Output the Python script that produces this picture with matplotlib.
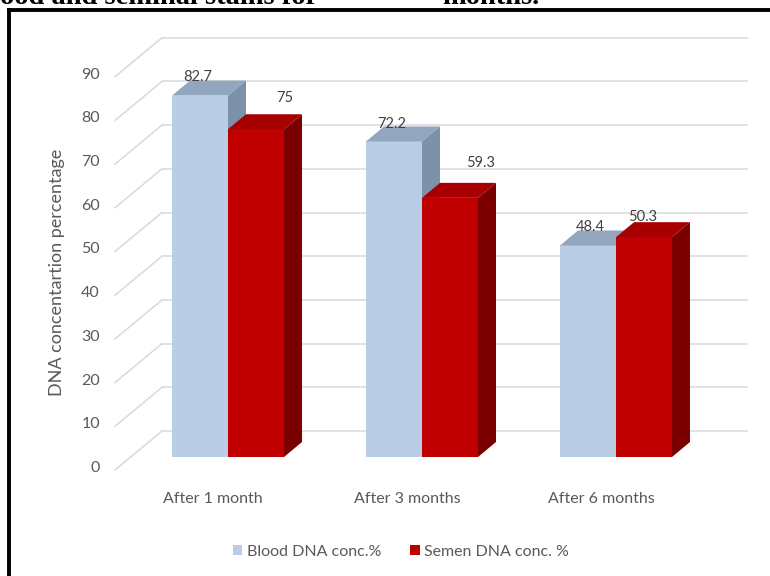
import matplotlib.pyplot as plt
from matplotlib.patches import Polygon, Patch
from matplotlib.lines import Line2D

# chart data
categories = ["After 1 month", "After 3 months", "After 6 months"]
blood_dna = [82.7, 72.2, 48.4]
semen_dna = [75, 59.3, 50.3]
series_names = ["Blood DNA conc.%", "Semen DNA conc. %"]
y_ticks = [0, 10, 20, 30, 40, 50, 60, 70, 80, 90]

# label nudges in pixels (dx, dy above the front top edge)
blood_label_nudge = [(-2, 19), (-2, 17), (2, 18)]
semen_label_nudge = [(29, 31), (31, 35), (-1, 20)]

W, H = 770, 576
X0, STEP = 228, 194      # pixel x of first group centre, pixels per group
Y0, PPU = 457, 4.37      # pixel y (from top) of value 0, pixels per unit

BLUE = ("#B9CDE5", "#93A6BF", "#7D91AB")   # front, top, side
RED = ("#C00000", "#A80000", "#7A0000")
GRID = "#D9D9D9"
TEXT = "#595959"
FONT = "Lato"

plt.rcParams['font.family'] = [FONT, 'DejaVu Sans']

fig = plt.figure(figsize=(W / 100, H / 100), dpi=100)
ax = fig.add_axes([0, 0, 1, 1])
ax.set_xlim(-X0 / STEP, (W - X0) / STEP)
ax.set_ylim(-(H - Y0) / PPU, Y0 / PPU)
ax.axis('off')


def px_x(px):
    return (px - X0) / STEP


def px_v(px):
    return px / PPU


bar_w = 56 / STEP
depth_x = 18 / STEP
depth_y = px_v(15)

# back wall grid and the slanted lines on the left wall
for v in y_ticks:
    back = v + px_v(26)
    front = v - px_v(13)
    ax.plot([px_x(162), px_x(747)], [back, back], color=GRID, lw=1.1, zorder=1)
    ax.plot([px_x(115), px_x(162)], [front, back], color=GRID, lw=1.1, zorder=1)
    ax.text(px_x(100), v - px_v(11), str(v), ha='right', va='center',
            fontsize=11.5, color=TEXT)


def draw_bar(x_left, value, colors, z):
    front, top, side = colors
    ax.bar(x_left, value, width=bar_w, align='edge', color=front, lw=0, zorder=z)
    x_right = x_left + bar_w
    ax.add_patch(Polygon([(x_left, value), (x_right, value),
                          (x_right + depth_x, value + depth_y),
                          (x_left + depth_x, value + depth_y)],
                         closed=True, color=top, lw=0, zorder=z))
    ax.add_patch(Polygon([(x_right, 0), (x_right + depth_x, depth_y),
                          (x_right + depth_x, value + depth_y), (x_right, value)],
                         closed=True, color=side, lw=0, zorder=z))


for i in range(len(categories)):
    draw_bar(i - bar_w, blood_dna[i], BLUE, 3 + i)
    draw_bar(i, semen_dna[i], RED, 3 + i)

    nx, ny = blood_label_nudge[i]
    ax.text(i - bar_w / 2 + px_x(X0 + nx), blood_dna[i] + px_v(ny), str(blood_dna[i]),
            ha='center', va='center', fontsize=10.5, color='#404040', zorder=10)
    nx, ny = semen_label_nudge[i]
    ax.text(i + bar_w / 2 + px_x(X0 + nx), semen_dna[i] + px_v(ny), str(semen_dna[i]),
            ha='center', va='center', fontsize=10.5, color='#404040', zorder=10)

    ax.text(i + px_x(X0 - 15), -px_v(42), categories[i], ha='center', va='center',
            fontsize=11.5, color=TEXT)

ax.text(px_x(57), px_v(Y0 - 272), "DNA concentartion percentage", rotation=90,
        ha='center', va='center', fontsize=13, color=TEXT)

handles = [Patch(facecolor=BLUE[0], edgecolor='none'),
           Patch(facecolor=RED[0], edgecolor='none')]
fig.legend(handles, series_names, loc='center', bbox_to_anchor=(401 / W, 1 - 552 / H),
           ncol=2, frameon=False, fontsize=11.5, handlelength=0.6, handleheight=0.6,
           handletextpad=0.3, columnspacing=1.8, labelcolor=TEXT)

# outer frame (only top and left edges fall inside the picture)
fig.add_artist(Line2D([9 / W, 1], [1 - 10 / H, 1 - 10 / H], color='black', lw=2.8))
fig.add_artist(Line2D([9 / W, 9 / W], [0, 1 - 10 / H], color='black', lw=2.8))

# caption of the page, cut off at the top edge
fig.text(0, 1 - 4 / H, "ood and seminal stains for", ha='left', va='baseline',
         fontsize=20.5, fontweight='bold', family='Liberation Serif')
fig.text(442 / W, 1 - 4 / H, "months.", ha='left', va='baseline',
         fontsize=20.5, fontweight='bold', family='Liberation Serif')

fig.savefig("out.png", dpi=100)
